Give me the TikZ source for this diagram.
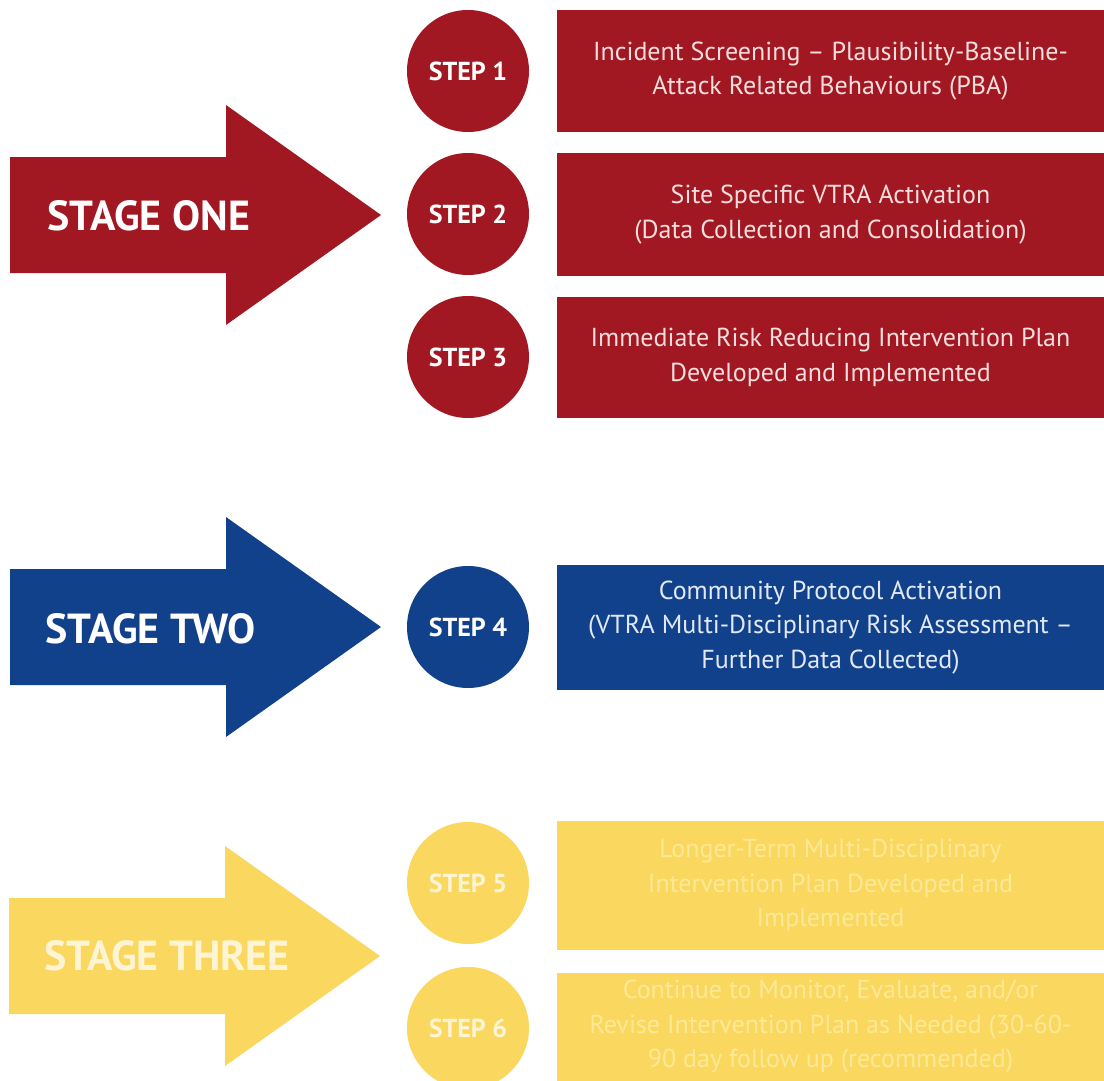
\documentclass[tikz,border=0pt]{standalone}
\usepackage{fontspec}
\setmainfont{PT Sans}
\definecolor{sred}{RGB}{161,24,34}
\definecolor{sblue}{RGB}{18,65,140}
\definecolor{syellow}{RGB}{250,215,95}
\definecolor{redtext}{RGB}{246,222,222}
\definecolor{bluetext}{RGB}{226,233,246}
\definecolor{yeltext}{RGB}{253,232,150}
\definecolor{yellabel}{RGB}{255,245,212}
\tikzset{
  stagearrow/.pic={\fill[#1] (0,-58) -- (216,-58) -- (216,-110) -- (371,0) -- (216,110) -- (216,58) -- (0,58) -- cycle;},
  stagelabel/.style={anchor=west, inner sep=0pt, font=\bfseries\fontsize{42}{46}\selectfont},
  stepcirc/.style={circle, minimum size=122pt, inner sep=0pt, font=\bfseries\fontsize{26}{30}\selectfont},
  stepbox/.style={rectangle, minimum width=547pt, inner sep=0pt, align=center, font=\fontsize{26}{34.5}\selectfont},
}
\begin{document}
\begin{tikzpicture}[x=1pt,y=-1pt]
\useasboundingbox (0,0) rectangle (1104,1081);
\fill[white] (0,0) rectangle (1104,1081);

% Stage one
\pic at (10,215) {stagearrow=sred};
\node[stagelabel, text=white] (st1) at (47,216) {STAGE ONE};
\node[stepcirc, fill=sred, text=white] (s1) at (468,71) {STEP 1};
\node[stepcirc, fill=sred, text=white] (s2) at (468,214) {STEP 2};
\node[stepcirc, fill=sred, text=white] (s3) at (468,357) {STEP 3};
\node[stepbox, fill=sred, text=redtext, minimum height=122pt] (b1) at (830.5,71)
  {Incident Screening – Plausibility-Baseline-\\Attack Related Behaviours (PBA)};
\node[stepbox, fill=sred, text=redtext, minimum height=123pt] (b2) at (830.5,214.5)
  {Site Specific VTRA Activation\\(Data Collection and Consolidation)};
\node[stepbox, fill=sred, text=redtext, minimum height=121pt] (b3) at (830.5,357.5)
  {Immediate Risk Reducing Intervention Plan\\Developed and Implemented};

% Stage two
\pic at (10,627) {stagearrow=sblue};
\node[stagelabel, text=white] (st2) at (45,629) {STAGE TWO};
\node[stepcirc, fill=sblue, text=white] (s4) at (468,627) {STEP 4};
\node[stepbox, fill=sblue, text=bluetext, minimum height=125pt] (b4) at (830.5,627.5)
  {Community Protocol Activation\\(VTRA Multi-Disciplinary Risk Assessment –\\Further Data Collected)};

% Stage three
\pic at (9,956) {stagearrow=syellow};
\node[stagelabel, text=yellabel] (st3) at (44,956) {STAGE THREE};
\node[stepcirc, fill=syellow, text=yellabel] (s5) at (468,883) {STEP 5};
\node[stepcirc, fill=syellow, text=yellabel] (s6) at (468,1028) {STEP 6};
\node[stepbox, fill=syellow, text=yeltext, minimum height=129pt] (b5) at (830.5,885.5)
  {Longer-Term Multi-Disciplinary\\Intervention Plan Developed and\\Implemented};
\node[stepbox, fill=syellow, text=yeltext, minimum height=108pt] (b6) at (830.5,1027)
  {Continue to Monitor, Evaluate, and/or\\Revise Intervention Plan as Needed (30-60-\\90 day follow up (recommended)};
\end{tikzpicture}
\end{document}
